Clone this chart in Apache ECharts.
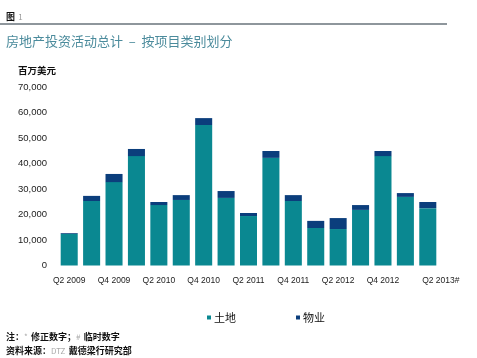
<!DOCTYPE html>
<html>
<head>
<meta charset="utf-8">
<script src="https://cdn.jsdelivr.net/npm/echarts@6/dist/echarts.min.js"></script>
<style>html,body{margin:0;padding:0;background:#fff;}#c{width:477px;height:358px;}</style>
</head>
<body>
<div id="c"></div>
<script>
const categories = ['Q2 2009','Q3 2009','Q4 2009','Q1 2010','Q2 2010','Q3 2010','Q4 2010','Q1 2011','Q2 2011','Q3 2011','Q4 2011','Q1 2012','Q2 2012','Q3 2012','Q4 2012','Q1 2013','Q2 2013#'];
const land = [12400, 25300, 32700, 42900, 23700, 25700, 55100, 26500, 19400, 42200, 25300, 14700, 14300, 21800, 42900, 26900, 22500];
const property = [300, 2000, 3200, 2800, 1200, 1900, 2700, 2700, 1200, 2700, 2300, 2800, 4300, 1900, 2000, 1500, 2400];
const seriesNames = ['土地', '物业'];
const yMax = 70000, yStep = 10000;

const FONT = '"Noto Sans CJK SC", "Liberation Sans", sans-serif';
const chart = echarts.init(document.getElementById('c'), null, {renderer: 'canvas'});
const legendText = {fontSize: 11, color: '#111', fontFamily: FONT, padding: [0, 0, 0, -2]};
chart.setOption({
  animation: false,
  backgroundColor: '#fff',
  textStyle: {fontFamily: FONT},
  grid: {left: 58, width: 381, top: 87, height: 178.5},
  legend: [
    {data: [seriesNames[0]], left: 202, top: 307, icon: 'rect', itemWidth: 4, itemHeight: 4, textStyle: legendText},
    {data: [seriesNames[1]], left: 291, top: 307, icon: 'rect', itemWidth: 4, itemHeight: 4, textStyle: legendText}
  ],
  xAxis: {
    type: 'category',
    data: categories.map((c, i) => i === categories.length - 1 ? {value: c, textStyle: {padding: [0, 0, 0, 26]}} : c),
    axisLine: {show: false},
    axisTick: {show: false},
    axisLabel: {interval: 1, fontSize: 8.5, color: '#222', margin: 11, fontFamily: '"Liberation Sans", sans-serif'}
  },
  yAxis: {
    type: 'value', min: 0, max: yMax, interval: yStep,
    axisLine: {show: false}, axisTick: {show: false}, splitLine: {show: false},
    axisLabel: {fontSize: 9.5, color: '#222', margin: 11, fontFamily: '"Liberation Sans", sans-serif',
      formatter: v => v.toLocaleString('en-US')}
  },
  series: [
    {name: seriesNames[0], type: 'bar', stack: 's', data: land, barCategoryGap: '24%', itemStyle: {color: '#0A8891'}},
    {name: seriesNames[1], type: 'bar', stack: 's', data: property, barCategoryGap: '24%', itemStyle: {color: '#0B3E7C'}}
  ],
  graphic: [
    {type: 'text', left: 6, top: 11, style: {text: '{b|图} {g|1}', rich: {b: {fontSize: 9, fontWeight: 'bold', fill: '#111', fontFamily: FONT}, g: {fontSize: 8, fill: '#999', fontFamily: FONT}}}},
    {type: 'line', shape: {x1: 0, y1: 24, x2: 447, y2: 24}, style: {stroke: '#1f2f3a', lineWidth: 1.2}},
    {type: 'text', left: 6, top: 35, style: {text: '房地产投资活动总计  –  按项目类别划分', fontSize: 13, fill: '#4B8B9C', fontFamily: FONT}},
    {type: 'text', left: 18, top: 66, style: {text: '百万美元', fontSize: 9.5, fontWeight: 'bold', fill: '#111', fontFamily: FONT}},
    {type: 'text', left: 6, top: 331, style: {text: '{b|注：}{g|*} {b|修正数字；}{g|#} {b|临时数字}', rich: {b: {fontSize: 9, fontWeight: 'bold', fill: '#111', fontFamily: FONT}, g: {fontSize: 8, fill: '#aaa', fontFamily: FONT}}}},
    {type: 'text', left: 6, top: 345, style: {text: '{b|资料来源：}{g|DTZ} {b|戴德梁行研究部}', rich: {b: {fontSize: 9, fontWeight: 'bold', fill: '#111', fontFamily: FONT}, g: {fontSize: 8, fill: '#aaa', fontFamily: FONT}}}}
  ]
});
</script>
</body>
</html>
